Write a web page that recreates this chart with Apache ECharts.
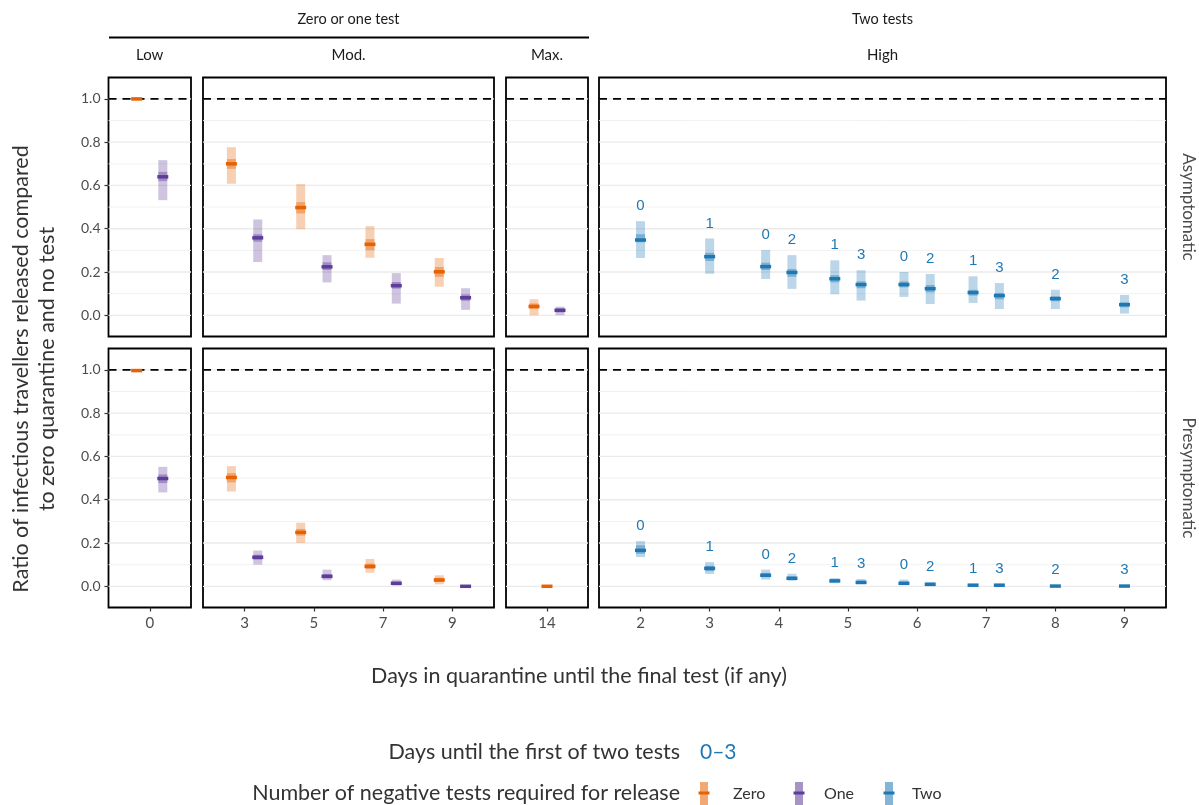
<!DOCTYPE html>
<html>
<head>
<meta charset="utf-8">
<script src="https://cdn.jsdelivr.net/npm/echarts@6/dist/echarts.min.js"></script>
<style>
  html, body { margin: 0; padding: 0; background: #fff; }
  #chart { width: 1199px; height: 805px; }
</style>
</head>
<body>
<div id="chart"></div>
<script>
// categories of each panel (days in quarantine until the final test)
var lowDays = ['0'];
var modDays = ['3', '5', '7', '9'];
var maxDays = ['14'];
var highDays = ['2', '3', '4', '5', '6', '7', '8', '9'];

// y axis ticks and grid
var yTicks = [0, 0.2, 0.4, 0.6, 0.8, 1.0];
var yMinor = [0.1, 0.3, 0.5, 0.7, 0.9];
var refLine = [1.0];

// zero / one test: [day, lower95, lower50, median, upper50, upper95]
var asymZero = [
  ['0', 0.995, 0.997, 1.0, 1.0, 1.0],
  ['3', 0.608, 0.677, 0.700, 0.722, 0.777],
  ['5', 0.398, 0.471, 0.498, 0.523, 0.606],
  ['7', 0.266, 0.301, 0.328, 0.352, 0.412],
  ['9', 0.132, 0.178, 0.201, 0.223, 0.265],
  ['14', 0.0, 0.029, 0.041, 0.055, 0.074]
];
var asymOne = [
  ['0', 0.532, 0.620, 0.640, 0.663, 0.717],
  ['3', 0.246, 0.340, 0.358, 0.375, 0.443],
  ['5', 0.152, 0.209, 0.224, 0.245, 0.278],
  ['7', 0.054, 0.123, 0.137, 0.154, 0.195],
  ['9', 0.025, 0.067, 0.081, 0.097, 0.125],
  ['14', 0.0, 0.014, 0.023, 0.032, 0.040]
];
var presZero = [
  ['0', 0.990, 0.995, 0.997, 1.0, 1.0],
  ['3', 0.438, 0.480, 0.503, 0.523, 0.555],
  ['5', 0.200, 0.234, 0.249, 0.265, 0.294],
  ['7', 0.063, 0.080, 0.092, 0.105, 0.126],
  ['9', 0.009, 0.020, 0.029, 0.040, 0.051],
  ['14', 0.0, 0.0, 0.0, 0.001, 0.002]
];
var presOne = [
  ['0', 0.434, 0.477, 0.498, 0.517, 0.552],
  ['3', 0.100, 0.123, 0.134, 0.146, 0.165],
  ['5', 0.028, 0.037, 0.046, 0.057, 0.077],
  ['7', 0.003, 0.008, 0.014, 0.020, 0.031],
  ['9', 0.0, 0.0, 0.0, 0.002, 0.005]
];

// two tests: [day, days until first test, lower95, lower50, median, upper50, upper95]
var asymTwo = [
  ['2', 0, 0.265, 0.337, 0.348, 0.375, 0.435],
  ['3', 1, 0.192, 0.251, 0.271, 0.289, 0.355],
  ['4', 0, 0.168, 0.209, 0.225, 0.243, 0.302],
  ['4', 2, 0.122, 0.178, 0.198, 0.214, 0.278],
  ['5', 1, 0.097, 0.152, 0.169, 0.186, 0.254],
  ['5', 3, 0.068, 0.125, 0.142, 0.157, 0.208],
  ['6', 0, 0.085, 0.129, 0.142, 0.157, 0.200],
  ['6', 2, 0.052, 0.106, 0.123, 0.140, 0.191],
  ['7', 1, 0.057, 0.091, 0.105, 0.118, 0.180],
  ['7', 3, 0.029, 0.074, 0.091, 0.103, 0.149],
  ['8', 2, 0.029, 0.065, 0.077, 0.088, 0.118],
  ['9', 3, 0.008, 0.037, 0.049, 0.060, 0.094]
];
var presTwo = [
  ['2', 0, 0.135, 0.150, 0.166, 0.190, 0.209],
  ['3', 1, 0.057, 0.070, 0.083, 0.095, 0.112],
  ['4', 0, 0.031, 0.042, 0.051, 0.062, 0.077],
  ['4', 2, 0.026, 0.031, 0.037, 0.045, 0.058],
  ['5', 1, 0.014, 0.020, 0.025, 0.030, 0.038],
  ['5', 3, 0.009, 0.014, 0.018, 0.024, 0.034],
  ['6', 0, 0.005, 0.010, 0.014, 0.020, 0.031],
  ['6', 2, 0.002, 0.005, 0.009, 0.013, 0.020],
  ['7', 1, 0.0, 0.002, 0.005, 0.007, 0.012],
  ['7', 3, 0.0, 0.002, 0.005, 0.007, 0.012],
  ['8', 2, 0.0, 0.0, 0.001, 0.002, 0.005],
  ['9', 3, 0.0, 0.0, 0.001, 0.002, 0.005]
];

var COL_ZERO = '#E66101', COL_ONE = '#5E3C99', COL_TWO = '#1F78B4';
var FONT = 'Lato, "Open Sans", sans-serif';
var TXT = '#1a1a1a', AX = '#4d4d4d';
var DODGE = 0.19;

var chart = echarts.init(document.getElementById('chart'));

// panel layout (px)
var cols = [
  { left: 108.5, width: 82.5, cats: lowDays },
  { left: 203, width: 291, cats: modDays },
  { left: 506, width: 82, cats: maxDays },
  { left: 599, width: 567, cats: highDays }
];
var rows = [{ top: 77.5, height: 259 }, { top: 348.5, height: 259 }];

var grids = [], xAxes = [], yAxes = [], series = [];

function rgba(hex, a) {
  var n = parseInt(hex.slice(1), 16);
  return 'rgba(' + (n >> 16) + ',' + ((n >> 8) & 255) + ',' + (n & 255) + ',' + a + ')';
}

// interval marks: value = [catIndex, dodge, lo, lo50, med, hi50, hi]
function intervalRenderer(color, labels) {
  return function (params, api) {
    var x = api.value(0) + api.value(1);
    var hi = api.coord([x, api.value(6)]);
    var lo = api.coord([x, api.value(2)]);
    var h50 = api.coord([x, api.value(5)]);
    var l50 = api.coord([x, api.value(3)]);
    var md = api.coord([x, api.value(4)]);
    var kids = [
      { type: 'rect', shape: { x: hi[0] - 4.5, y: hi[1], width: 9, height: Math.max(lo[1] - hi[1], 1) },
        style: { fill: rgba(color, 0.3) } },
      { type: 'rect', shape: { x: h50[0] - 4.5, y: h50[1], width: 9, height: Math.max(l50[1] - h50[1], 1) },
        style: { fill: rgba(color, 0.4) } },
      { type: 'rect', shape: { x: md[0] - 5.5, y: md[1] - 1.75, width: 11, height: 3.5 },
        style: { fill: color } }
    ];
    if (labels) {
      kids.push({ type: 'text', x: hi[0], y: hi[1] - 15,
        style: { text: labels[params.dataIndex], fill: COL_TWO, font: '15px "Liberation Sans", Arial, sans-serif',
          align: 'center', verticalAlign: 'middle', textAlign: 'center', textVerticalAlign: 'middle' } });
    }
    return { type: 'group', children: kids };
  };
}

function hLineRenderer(stroke, width, dash) {
  return function (params, api) {
    var y = api.coord([0, api.value(0)])[1];
    var cs = params.coordSys;
    return { type: 'line', shape: { x1: cs.x, y1: y, x2: cs.x + cs.width, y2: y },
      style: { stroke: stroke, lineWidth: width, lineDash: dash || null } };
  };
}

// dodge items that share a category in a panel
function withDodge(items) {
  var count = {}, seen = {};
  items.forEach(function (it) { count[it[0]] = (count[it[0]] || 0) + 1; });
  return items.map(function (it) {
    var k = it[0];
    var i = seen[k] || 0; seen[k] = i + 1;
    var d = count[k] === 2 ? (i === 0 ? -DODGE : DODGE) : 0;
    return [it[1], d].concat(it.slice(2));
  });
}

rows.forEach(function (row, r) {
  var zero = r === 0 ? asymZero : presZero;
  var one = r === 0 ? asymOne : presOne;
  var two = r === 0 ? asymTwo : presTwo;
  cols.forEach(function (col, c) {
    var g = grids.length;
    grids.push({ left: col.left, top: row.top, width: col.width, height: row.height,
      show: true, borderColor: '#000', borderWidth: 1.8, backgroundColor: '#fff', containLabel: false });
    var idx = col.cats.map(function (d, i) { return i; });
    xAxes.push({
      gridIndex: g, type: 'value', min: -0.6, max: col.cats.length - 0.4,
      show: r === 1, position: 'bottom',
      axisLine: { show: false, onZero: false },
      splitLine: { show: false },
      axisTick: { show: true, customValues: idx, length: 4, lineStyle: { color: '#333', width: 1.2 } },
      axisLabel: { customValues: idx, margin: 8, color: AX, fontFamily: FONT, fontSize: 15,
        formatter: function (v) { return col.cats[Math.round(v)]; } }
    });
    yAxes.push({
      gridIndex: g, type: 'value', min: -0.098, max: 1.099,
      show: c === 0, position: 'left',
      axisLine: { show: false, onZero: false },
      splitLine: { show: false },
      axisTick: { show: true, customValues: yTicks, length: 4, lineStyle: { color: '#333', width: 1.2 } },
      axisLabel: { customValues: yTicks, margin: 8, color: AX, fontFamily: FONT, fontSize: 14,
        formatter: function (v) { return v.toFixed(1); } }
    });

    var base = { type: 'custom', xAxisIndex: g, yAxisIndex: g, silent: true, clip: false };
    series.push(Object.assign({}, base, { z: 1, encode: { y: 0 },
      data: yMinor.map(function (v) { return [v]; }), renderItem: hLineRenderer('#f0f0f0', 0.9) }));
    series.push(Object.assign({}, base, { z: 1, encode: { y: 0 },
      data: yTicks.map(function (v) { return [v]; }), renderItem: hLineRenderer('#ebebeb', 1.3) }));
    series.push(Object.assign({}, base, { z: 2, encode: { y: 0 },
      data: refLine.map(function (v) { return [v]; }), renderItem: hLineRenderer('#000', 1.8, [8, 6]) }));

    if (c < 3) {
      var items = [];
      zero.forEach(function (d) {
        var i = col.cats.indexOf(d[0]);
        if (i >= 0) items.push(['zero', i].concat(d.slice(1)));
      });
      one.forEach(function (d) {
        var i = col.cats.indexOf(d[0]);
        if (i >= 0) items.push(['one', i].concat(d.slice(1)));
      });
      // dodge by category index within the panel
      var keyed = items.map(function (it) { return [it[1], it[1]].concat(it.slice(2)); });
      var dodged = withDodge(keyed);
      var zData = [], oData = [];
      dodged.forEach(function (d, k) { (items[k][0] === 'zero' ? zData : oData).push(d); });
      series.push(Object.assign({}, base, { z: 3, data: zData, encode: { x: 0, y: 4 },
        renderItem: intervalRenderer(COL_ZERO) }));
      series.push(Object.assign({}, base, { z: 3, data: oData, encode: { x: 0, y: 4 },
        renderItem: intervalRenderer(COL_ONE) }));
    } else {
      var tItems = two.map(function (d) {
        return [d[0], col.cats.indexOf(d[0])].concat(d.slice(2));
      });
      var labels = two.map(function (d) { return String(d[1]); });
      series.push(Object.assign({}, base, { z: 3, data: withDodge(tItems), encode: { x: 0, y: 4 },
        renderItem: intervalRenderer(COL_TWO, labels) }));
    }
  });
});

function txt(x, y, text, opt) {
  opt = opt || {};
  return {
    type: 'text', x: x, y: y, rotation: opt.rotation || 0, silent: true,
    style: {
      text: text, fill: opt.color || TXT, font: (opt.size || 15) + 'px ' + FONT,
      align: opt.align || 'center', verticalAlign: 'middle', lineHeight: opt.lineHeight
    }
  };
}

function legendKey(x, color) {
  return [
    { type: 'rect', shape: { x: x - 4, y: 782, width: 8, height: 24 }, style: { fill: rgba(color, 0.55) }, silent: true },
    { type: 'rect', shape: { x: x - 5.5, y: 791.5, width: 11, height: 3 }, style: { fill: color }, silent: true }
  ];
}

var graphics = [
  txt(348.5, 19, 'Zero or one test', { size: 14.5 }),
  { type: 'line', shape: { x1: 109, y1: 37.5, x2: 589, y2: 37.5 }, style: { stroke: '#000', lineWidth: 2 }, silent: true },
  txt(882.5, 19, 'Two tests', { size: 14.5 }),
  txt(149.7, 55, 'Low'),
  txt(348.5, 55, 'Mod.'),
  txt(547, 55, 'Max.'),
  txt(882.5, 55, 'High'),
  txt(1188, 207, 'Asymptomatic', { rotation: -Math.PI / 2, color: AX, size: 17 }),
  txt(1188, 478, 'Presymptomatic', { rotation: -Math.PI / 2, color: AX, size: 17 }),
  txt(34, 369, 'Ratio of infectious travellers released compared\nto zero quarantine and no test',
    { rotation: Math.PI / 2, size: 21.5, lineHeight: 26, color: '#333' }),
  txt(579, 676, 'Days in quarantine until the final test (if any)', { size: 21.5, color: '#333' }),
  txt(680, 752, 'Days until the first of two tests', { size: 21.5, align: 'right', color: '#333' }),
  txt(700, 752, '0–3', { size: 21, align: 'left', color: COL_TWO }),
  txt(680, 793, 'Number of negative tests required for release', { size: 21.5, align: 'right', color: '#333' }),
  txt(733, 794, 'Zero', { size: 16, align: 'left', color: '#333' }),
  txt(824, 794, 'One', { size: 16, align: 'left', color: '#333' }),
  txt(912, 794, 'Two', { size: 16, align: 'left', color: '#333' })
].concat(legendKey(704, COL_ZERO), legendKey(799, COL_ONE), legendKey(889, COL_TWO));

chart.setOption({
  backgroundColor: '#fff',
  animation: false,
  grid: grids,
  xAxis: xAxes,
  yAxis: yAxes,
  series: series,
  graphic: graphics
});
</script>
</body>
</html>
